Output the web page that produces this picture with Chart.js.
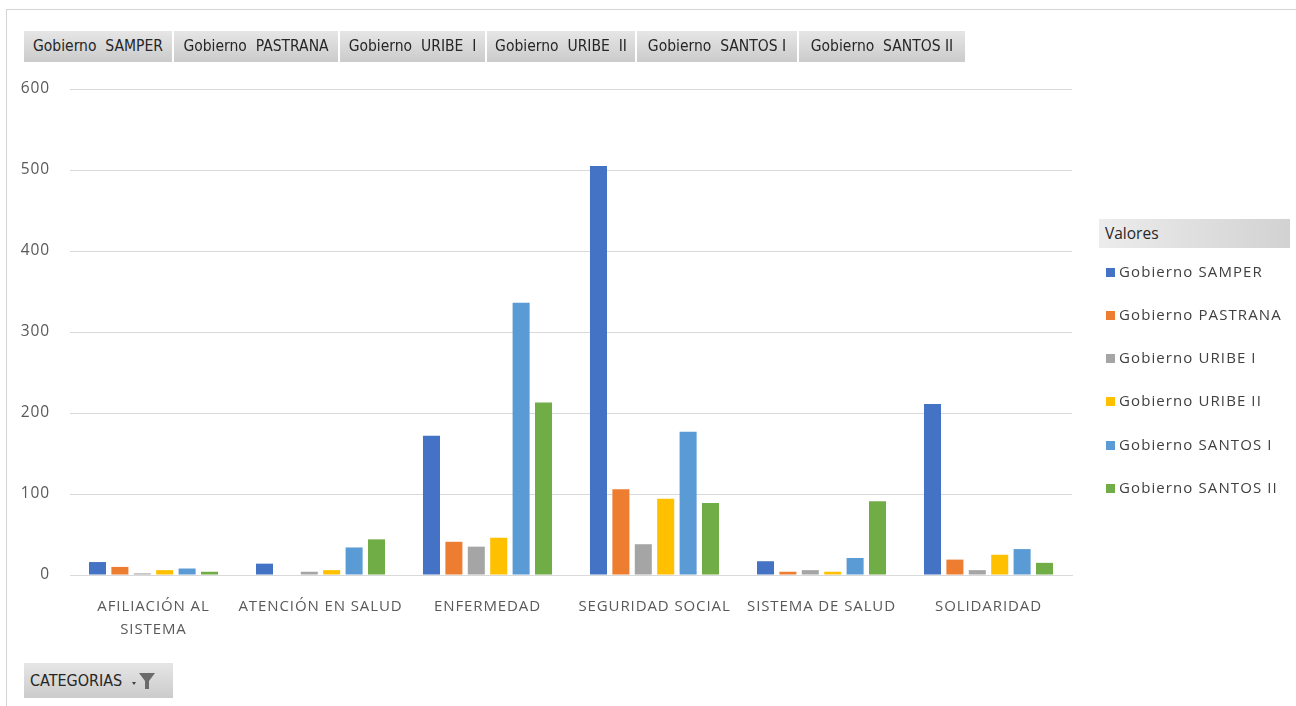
<!DOCTYPE html>
<html>
<head>
<meta charset="utf-8">
<script src="https://cdn.jsdelivr.net/npm/chart.js@4"></script>
<style>
  html, body { margin:0; padding:0; background:#fff; width:1296px; height:706px; overflow:hidden; }
  body { position:relative; font-family:'Liberation Sans Narrow','DejaVu Sans Condensed','Open Sans',sans-serif; }
  #frame { position:absolute; left:6px; top:9px; width:1300px; height:720px; border-top:1px solid #d4d4d4; border-left:1px solid #d4d4d4; }
  #wrap { position:absolute; left:0; top:0; width:1296px; height:706px; }
  .btn { position:absolute; top:31px; height:31px; line-height:31px; font-size:15.5px; color:#262626;
         background:linear-gradient(#e6e6e6,#cbcbcb); text-align:center; white-space:nowrap; }
  #legHead { position:absolute; left:1099px; top:219px; width:191px; height:29px; line-height:29px; padding-left:6px; box-sizing:border-box;
             font-family:'Open Sans',sans-serif; font-size:15.5px; color:#262626; background:linear-gradient(90deg,#ececec,#d2d2d2); }
  .leg { position:absolute; left:1106px; font-family:'Open Sans',sans-serif; font-size:15px; letter-spacing:1.1px; color:#404040; white-space:nowrap; }
  .leg i { display:inline-block; width:9px; height:9px; margin-right:4px; vertical-align:0px; }
  #cat { position:absolute; left:24px; top:663px; width:149px; height:35px; line-height:35px; padding-left:6px; box-sizing:border-box;
         font-size:16px; color:#262626; background:linear-gradient(#e6e6e6,#cbcbcb); }
</style>
</head>
<body>
<div id="frame"></div>
<div id="wrap"><canvas id="c" width="1296" height="706"></canvas></div>
<div id="btns"></div>
<div id="legHead">Valores</div>
<div id="legend"></div>
<div id="cat">CATEGORIAS <svg width="30" height="22" style="vertical-align:-5px"><path d="M5 13 L9 13 L7 16 Z" fill="#404040"/><path d="M12 4 L28 4 L22 12 L22 20 L18 20 L18 12 Z" fill="#6b6b6b"/></svg></div>
<script>
const categories = [["AFILIACIÓN AL","SISTEMA"], "ATENCIÓN EN SALUD", "ENFERMEDAD", "SEGURIDAD SOCIAL", "SISTEMA DE SALUD", "SOLIDARIDAD"];
const seriesNames = ["Gobierno SAMPER","Gobierno PASTRANA","Gobierno URIBE I","Gobierno URIBE II","Gobierno SANTOS I","Gobierno SANTOS II"];
const buttonLabels = ["Gobierno  SAMPER","Gobierno  PASTRANA","Gobierno  URIBE  I","Gobierno  URIBE  II","Gobierno  SANTOS I","Gobierno  SANTOS II"];
const samper   = [16, 14, 172, 505, 17, 211];
const pastrana = [10, 0, 41, 106, 4, 19];
const uribe1   = [2, 4, 35, 38, 6, 6];
const uribe2   = [6, 6, 46, 94, 4, 25];
const santos1  = [8, 34, 336, 177, 21, 32];
const santos2  = [4, 44, 213, 89, 91, 15];
const yTicks = [0, 100, 200, 300, 400, 500, 600];
const colors = ["#4472C4","#ED7D31","#A5A5A5","#FFC000","#5B9BD5","#70AD47"];

const seriesValues = [samper, pastrana, uribe1, uribe2, santos1, santos2];

// top field buttons
const btnX = [[24,172],[174,338],[340,485],[487,635],[637,797],[799,965]];
const btns = document.getElementById('btns');
buttonLabels.forEach((t,i)=>{
  const d=document.createElement('div'); d.className='btn';
  d.style.left=btnX[i][0]+'px'; d.style.width=(btnX[i][1]-btnX[i][0])+'px';
  d.style.whiteSpace='pre'; d.textContent=t; btns.appendChild(d);
});

// legend
const legTops = [272,315,358,401,445,488];
const leg = document.getElementById('legend');
seriesNames.forEach((n,i)=>{
  const d=document.createElement('div'); d.className='leg';
  d.style.top=(legTops[i]-11)+'px';
  d.innerHTML='<i style="background:'+colors[i]+'"></i>'+n;
  leg.appendChild(d);
});

const spacing = {
  id:'spacing',
  beforeLayout(chart){ chart.ctx.letterSpacing='0.9px'; },
  beforeDraw(chart){ chart.ctx.letterSpacing='0.9px'; }
};

new Chart(document.getElementById('c'), {
  type:'bar',
  data:{
    labels:categories,
    datasets: seriesNames.map((n,i)=>({label:n, data:seriesValues[i], backgroundColor:colors[i],
      categoryPercentage:0.805, barPercentage:0.76}))
  },
  options:{
    responsive:false, animation:false,
    layout:{padding:{left:0, top:89, right:224, bottom:58}},
    plugins:{legend:{display:false}, tooltip:{enabled:false}},
    scales:{
      x:{
        grid:{display:false, drawTicks:false},
        border:{display:true, color:'#d9d9d9'},
        ticks:{color:'#595959', font:{family:"'Open Sans',sans-serif", size:15, lineHeight:1.55}, padding:20, maxRotation:0, autoSkip:false},
        afterFit(s){ s.height = 73; }
      },
      y:{
        min:0, max:600,
        afterBuildTicks(s){ s.ticks = yTicks.map(v=>({value:v})); },
        grid:{color:'#d9d9d9', drawTicks:false},
        border:{display:false},
        ticks:{color:'#595959', font:{family:"'Liberation Sans Narrow','Open Sans',sans-serif", size:15.5}, padding:20},
        afterFit(s){ s.width = 70; }
      }
    }
  },
  plugins:[spacing]
});
</script>
</body>
</html>
